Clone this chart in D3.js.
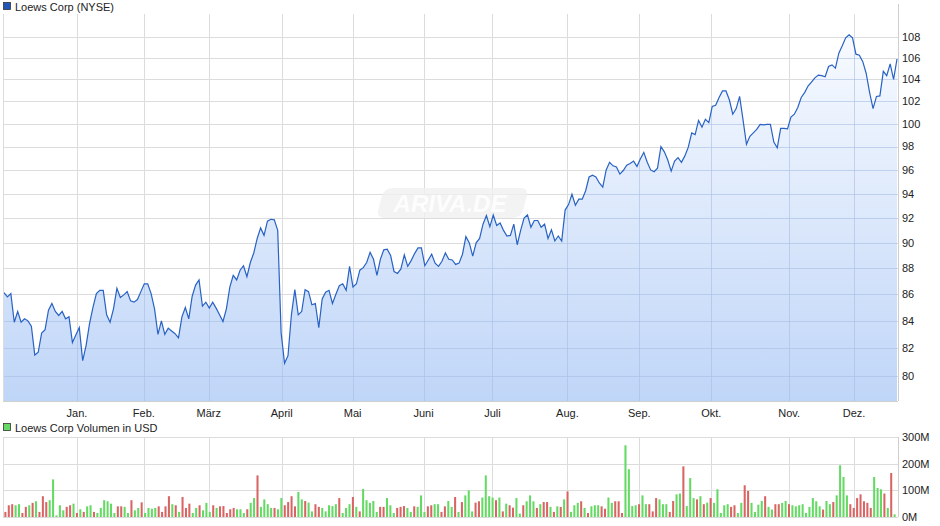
<!DOCTYPE html>
<html>
<head>
<meta charset="utf-8">
<script src="https://cdn.jsdelivr.net/npm/d3@7"></script>
<style>
  body { margin: 0; background: #fff; }
  text { font-family: "Liberation Sans", Arial, sans-serif; }
</style>
</head>
<body>
<div id="chart"></div>
<script>
//chart size
const width = 940;
const height = 526;

//price series (daily close)
const prices = [
  86.13, 85.8, 86.05, 83.9, 84.7, 83.9, 84.15, 84.0, 83.6, 81.5, 81.7, 83.1, 83.35, 84.8, 85.3, 84.7,
  84.4, 84.7, 84.15, 84.3, 82.4, 82.95, 83.5, 81.1, 82.2, 83.8, 85.0, 86.05, 86.3, 86.3, 84.45, 83.9,
  84.9, 86.45, 85.75, 85.95, 86.2, 85.5, 85.4, 85.6, 86.2, 86.8, 86.8, 86.05, 84.9, 83.0, 84.0, 83.0,
  83.45, 83.25, 83.05, 82.75, 84.3, 85.0, 84.15, 85.85, 86.7, 87.1, 85.1, 85.4, 84.95, 85.4, 84.95, 84.45,
  83.95, 84.9, 86.55, 87.45, 87.1, 87.85, 88.2, 87.35, 88.45, 89.2, 90.35, 91.2, 90.6, 91.75, 91.9, 91.85,
  91.0, 83.1, 80.9, 81.45, 84.45,
  86.35, 84.45, 84.7, 86.35, 86.2, 85.2, 85.3, 83.5, 85.65, 86.15, 86.3, 85.3, 86.0, 86.65, 86.8, 86.3,
  88.15, 86.55, 86.8, 87.85, 88.05, 88.45, 89.25, 88.7, 87.45, 88.7, 89.45, 89.5, 89.0, 87.75, 87.6, 87.95,
  89.05, 88.15, 88.6, 89.15, 89.6, 89.6, 88.2, 88.65, 89.1, 88.4, 88.15, 88.55, 89.2, 88.7, 88.65, 88.3,
  88.4, 89.1, 90.5, 90.0, 88.95, 90.0, 90.35, 91.5, 92.2, 91.3, 92.25, 91.4, 91.6, 91.0, 90.55, 90.6,
  91.5, 89.85, 91.0, 92.0, 92.25, 91.25, 91.8, 91.8, 91.25, 91.5, 90.35, 91.05, 90.15, 90.55, 90.15, 92.65,
  93.1, 93.95, 93.05, 93.55, 93.55, 94.25, 95.4, 95.55,
  95.4, 94.9, 94.55, 96.0, 96.65, 96.35, 96.25, 95.65, 95.95, 96.4, 96.55, 96.75, 96.3, 96.95, 97.5, 96.65,
  96.0, 95.85, 96.15, 98.0, 97.55, 96.85, 95.9, 96.75, 97.05, 96.65, 97.2, 97.95, 99.2, 99.05, 100.3, 99.7,
  100.4, 100.1, 101.55, 101.65, 102.35, 102.95, 102.95, 102.15, 100.85, 101.35, 102.45, 100.35, 98.2, 98.9, 99.2, 99.5,
  99.95, 99.9, 99.95, 99.95, 98.4, 97.9, 99.6, 99.6, 99.55, 100.6, 100.85, 101.45, 102.35, 102.8, 103.4, 103.75,
  104.15, 104.4, 104.35, 104.25, 105.2, 105.35, 105.05, 106.45, 107.15, 107.9, 108.2, 107.9, 106.35, 106.25, 105.65, 104.55,
  102.8, 101.35, 102.45, 102.5, 104.75, 104.35, 105.45, 104.0, 105.9
];

//daily volume in million USD
const volumes = [
  19, 44, 48, 44, 48, 15, 38, 44, 53, 59, 19, 78, 56, 63, 141, 6, 44, 25, 38, 44,
  50, 15, 29, 19, 40, 44, 19, 15, 34, 63, 59, 50, 15, 40, 40, 38, 15, 63, 25, 34,
  55, 15, 34, 31, 34, 40, 19, 40, 78, 48, 44, 19, 75, 34, 50, 15, 34, 44, 25, 53,
  19, 44, 34, 40, 41, 15, 29, 34, 29, 29, 15, 29, 53, 71, 156, 38, 66, 48, 34, 34,
  29, 71, 44, 56, 78, 40, 94, 66, 60, 54, 21, 48, 38, 34, 21, 44, 41, 48, 71, 15,
  34, 48, 75, 38, 21, 105, 63, 53, 60, 19, 38, 38, 71, 44, 15, 34, 38, 41, 34, 19,
  40, 38, 81, 19, 40, 44, 48, 48, 19, 40, 60, 38, 75, 19, 56, 81, 100,
  21, 54, 59, 73, 156, 78, 73, 63, 73, 21, 50, 44, 35, 71, 13, 44, 59, 81, 59, 34,
  48, 56, 56, 38, 19, 40, 38, 66, 96, 19, 44, 53, 59, 34, 15, 40, 44, 44, 40, 31,
  73, 53, 59, 59, 15, 269, 179, 41, 44, 48, 81, 48, 48, 21, 71, 66, 48, 48, 19, 60,
  85, 88, 190, 41, 146, 71, 66, 78, 48, 54, 71, 53, 104, 15, 44, 48, 38, 44, 15, 53,
  119, 98, 53, 19, 46, 60, 78, 38, 28, 48, 48, 53, 60, 48, 44, 40, 44, 48, 15, 38,
  71, 59, 40, 28, 60, 48, 56, 81, 194, 150, 81, 48, 34, 71, 85, 59, 53, 34, 150, 109,
  104, 88, 34, 165, 10
];

//up (g) / down (r) day of each volume bar
const volumeDirection =
  "rrrggrrgrg" + "rrrgggggrr" + "grgrggrggg" + "gggrrggrgg" + "rggggrrrrg" +
  "rgrrrggrgg" + "grgrrrrrgg" + "grggrggggr" + "ggrrrrggrg" + "grrgggggrg" +
  "ggrgrggggg" + "rrgggrrrgg" + "rgggrrggrr" + "ggrgrgg" +
  "grrggggrgr" + "grrggrgggr" + "grrgrgrgrg" + "ggrgrgggrr" + "ggrrrggggr" +
  "ggrrrgggrr" + "ggrgggrgrg" + "rgggggrrgg" + "rrggggrggr" + "rggrgggggg" +
  "gggrggrggg" + "grrrrrrrgg" + "grgrg";

//price ticks and month labels
const priceTicks = [80, 82, 84, 86, 88, 90, 92, 94, 96, 98, 100, 102, 104, 106, 108];
const volumeTicks = [0, 100, 200, 300];
const months = ["Jan.", "Feb.", "März", "April", "Mai", "Juni", "Juli", "Aug.", "Sep.", "Okt.", "Nov.", "Dez."];
const monthPos = [0.0817, 0.1566, 0.2293, 0.311, 0.3904, 0.4698, 0.547, 0.6309, 0.7114, 0.792, 0.8792, 0.9519];

const left = 4, right = 898;
const priceTop = 14, priceBottom = 401;
const volTop = 437, volBottom = 517;

const svg = d3.select("#chart").append("svg")
  .attr("width", width)
  .attr("height", height);

const defs = svg.append("defs");
const grad = defs.append("linearGradient")
  .attr("id", "areaGrad")
  .attr("x1", 0).attr("y1", 0).attr("x2", 0).attr("y2", 1);
grad.append("stop").attr("offset", "0%").attr("stop-color", "#f7faff");
grad.append("stop").attr("offset", "100%").attr("stop-color", "#bad2f7");

//scales
const xScale = d3.scaleLinear().domain([0, 1]).range([left, right - 1]);
const yScale = d3.scaleLog().domain([78.25, 110.2]).range([priceBottom, priceTop]);
const vScale = d3.scaleLinear().domain([0, 300]).range([volBottom, volTop]);
const bandScale = d3.scaleBand()
  .domain(d3.range(volumes.length))
  .range([left - 1, right - 1])
  .padding(0.4);

const xOf = (d, i) => xScale(i / (prices.length - 1));

//area shape, also used as a clip for the tinted grid
const area = d3.area()
  .x(xOf)
  .y0(priceBottom)
  .y1((d) => yScale(d));

defs.append("clipPath").attr("id", "areaClip")
  .append("path").datum(prices).attr("d", area);

//price panel grid
svg.append("g")
  .selectAll("line")
  .data(priceTicks)
  .join("line")
  .attr("x1", left).attr("x2", right)
  .attr("y1", (d) => Math.round(yScale(d)) + 0.5)
  .attr("y2", (d) => Math.round(yScale(d)) + 0.5)
  .attr("stroke", "#dcdcdc");

svg.append("g")
  .selectAll("line")
  .data(monthPos)
  .join("line")
  .attr("x1", (d) => Math.round(xScale(d)) + 0.5)
  .attr("x2", (d) => Math.round(xScale(d)) + 0.5)
  .attr("y1", priceTop).attr("y2", priceBottom)
  .attr("stroke", "#dcdcdc");

//watermark
const wm = svg.append("g").attr("transform", "translate(450,203)");
wm.append("rect")
  .attr("x", -70).attr("y", -15).attr("width", 145).attr("height", 30).attr("rx", 8)
  .attr("transform", "skewX(-15)")
  .attr("fill", "#f0f0f0").attr("opacity", 0.8);
wm.append("text")
  .attr("text-anchor", "middle").attr("dy", "0.36em")
  .attr("font-size", "24px").attr("font-style", "italic").attr("font-weight", "bold")
  .attr("fill", "#ffffff").attr("opacity", 0.9)
  .text("ARIVA.DE");

//area and line
svg.append("path")
  .datum(prices)
  .attr("d", area)
  .attr("fill", "url(#areaGrad)")
  .attr("opacity", 0.92);

//grid lines visible through the area
const tint = svg.append("g").attr("clip-path", "url(#areaClip)");
tint.selectAll("line.v")
  .data(monthPos)
  .join("line")
  .attr("class", "v")
  .attr("x1", (d) => Math.round(xScale(d)) + 0.5)
  .attr("x2", (d) => Math.round(xScale(d)) + 0.5)
  .attr("y1", priceTop).attr("y2", priceBottom)
  .attr("stroke", "#a9c0e6").attr("opacity", 0.6);
tint.selectAll("line.h")
  .data(priceTicks)
  .join("line")
  .attr("class", "h")
  .attr("x1", left).attr("x2", right)
  .attr("y1", (d) => Math.round(yScale(d)) + 0.5)
  .attr("y2", (d) => Math.round(yScale(d)) + 0.5)
  .attr("stroke", "#a9c0e6").attr("opacity", 0.6);

const line = d3.line()
  .x(xOf)
  .y((d) => yScale(d));

svg.append("path")
  .datum(prices)
  .attr("d", line)
  .attr("fill", "none")
  .attr("stroke", "#2862c4")
  .attr("stroke-width", 1.2);

//axes frame
svg.append("line")
  .attr("x1", right + 0.5).attr("x2", right + 0.5)
  .attr("y1", priceTop - 10).attr("y2", priceBottom)
  .attr("stroke", "#cfcfcf");
svg.append("line")
  .attr("x1", left - 1).attr("x2", right)
  .attr("y1", priceBottom + 0.5).attr("y2", priceBottom + 0.5)
  .attr("stroke", "#cfcfcf");
svg.append("line")
  .attr("x1", left - 0.5).attr("x2", left - 0.5)
  .attr("y1", priceTop).attr("y2", priceBottom)
  .attr("stroke", "#dcdcdc");

//price labels
svg.append("g")
  .selectAll("text")
  .data(priceTicks)
  .join("text")
  .attr("x", right + 4)
  .attr("y", (d) => yScale(d))
  .attr("dy", "0.35em")
  .attr("font-size", "11px")
  .attr("fill", "#222")
  .text((d) => d);

//month labels
svg.append("g")
  .selectAll("text")
  .data(months)
  .join("text")
  .attr("x", (d, i) => xScale(monthPos[i]))
  .attr("y", 413)
  .attr("dy", "0.35em")
  .attr("text-anchor", "middle")
  .attr("font-size", "11px")
  .attr("fill", "#222")
  .text((d) => d);

//legends
function legend(y, color, label) {
  svg.append("rect")
    .attr("x", 3.5).attr("y", y - 4.5).attr("width", 7).attr("height", 7)
    .attr("fill", color).attr("stroke", "#333").attr("stroke-width", 0.8);
  svg.append("text")
    .attr("x", 15).attr("y", y)
    .attr("dy", "0.35em")
    .attr("font-size", "11px")
    .attr("fill", "#222")
    .text(label);
}
legend(7, "#1f56b8", "Loews Corp (NYSE)");
legend(428, "#66d966", "Loews Corp Volumen in USD");

//volume panel grid
svg.append("g")
  .selectAll("line")
  .data(volumeTicks)
  .join("line")
  .attr("x1", left - 1).attr("x2", right)
  .attr("y1", (d) => Math.round(vScale(d)) + 0.5)
  .attr("y2", (d) => Math.round(vScale(d)) + 0.5)
  .attr("stroke", "#dcdcdc");

svg.append("g")
  .selectAll("line")
  .data(monthPos)
  .join("line")
  .attr("x1", (d) => Math.round(xScale(d)) + 0.5)
  .attr("x2", (d) => Math.round(xScale(d)) + 0.5)
  .attr("y1", volTop).attr("y2", volBottom)
  .attr("stroke", "#dcdcdc");

svg.append("line")
  .attr("x1", left - 0.5).attr("x2", left - 0.5)
  .attr("y1", volTop).attr("y2", volBottom)
  .attr("stroke", "#dcdcdc");
svg.append("line")
  .attr("x1", right + 0.5).attr("x2", right + 0.5)
  .attr("y1", volTop).attr("y2", volBottom)
  .attr("stroke", "#cfcfcf");

//volume bars
svg.append("g")
  .selectAll("rect")
  .data(volumes)
  .join("rect")
  .attr("x", (d, i) => bandScale(i))
  .attr("width", bandScale.bandwidth())
  .attr("y", (d) => vScale(d))
  .attr("height", (d) => vScale(0) - vScale(d))
  .attr("fill", (d, i) => volumeDirection[i] === "r" ? "#d96464" : "#64d964");

//volume labels
svg.append("g")
  .selectAll("text")
  .data(volumeTicks)
  .join("text")
  .attr("x", right + 4)
  .attr("y", (d) => vScale(d))
  .attr("dy", "0.35em")
  .attr("font-size", "11px")
  .attr("fill", "#222")
  .text((d) => d + "M");
</script>
</body>
</html>
